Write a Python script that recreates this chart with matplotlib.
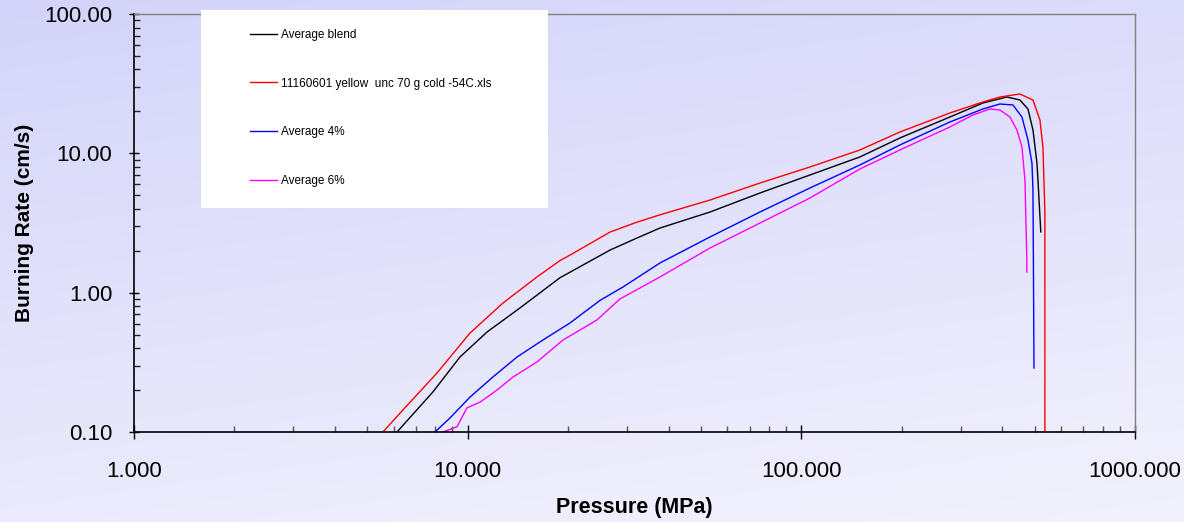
import numpy as np
import matplotlib
matplotlib.use("Agg")
import matplotlib.pyplot as plt
from matplotlib.patches import Rectangle
from matplotlib.ticker import LogLocator, FuncFormatter, NullFormatter

plt.rcParams['font.family'] = ['Liberation Sans', 'DejaVu Sans']

# (pressure MPa, burning rate cm/s)
blend_p = [6.14, 7.87, 9.48, 11.43, 14.34, 18.91, 26.69, 32.2, 37.7, 53.22, 75.14, 106.1, 149.8, 197.4, 278.8, 350.1, 413.2, 452.0, 477.7, 494.5, 508.3, 511.9, 522]
blend_r = [0.1, 0.194, 0.345, 0.522, 0.776, 1.28, 2.02, 2.47, 2.91, 3.79, 5.19, 6.99, 9.42, 12.89, 18.23, 22.98, 25.37, 24.14, 20.81, 14.71, 8.52, 6.44, 2.73]

cold_p = [5.57, 6.40, 8.09, 10.16, 12.76, 16.13, 18.91, 20.26, 26.69, 32.2, 37.7, 53.22, 75.14, 106.1, 149.8, 197.4, 278.8, 350.1, 393.8, 452.0, 494.5, 518.9, 529.7, 533.4, 537, 537]
cold_r = [0.1, 0.144, 0.265, 0.513, 0.843, 1.296, 1.70, 1.86, 2.72, 3.21, 3.62, 4.62, 6.12, 7.98, 10.57, 14.23, 19.48, 23.36, 25.37, 26.67, 24.14, 17.35, 11.10, 6.44, 3.73, 0.1]

avg4_p = [7.98, 8.85, 10.16, 11.9, 14.05, 16.8, 20.26, 24.92, 29.2, 37.7, 53.22, 75.14, 106.1, 149.8, 197.4, 278.8, 350.1, 393.8, 430.7, 458.3, 477.7, 491.1, 494.5, 496, 498]
avg4_r = [0.1, 0.126, 0.178, 0.248, 0.345, 0.457, 0.606, 0.88, 1.098, 1.633, 2.51, 3.79, 5.64, 8.25, 11.48, 16.79, 20.81, 22.60, 22.23, 18.23, 12.49, 8.52, 5.5, 1.716, 0.288]

avg6_p = [8.43, 9.29, 9.95, 10.9, 12.24, 13.67, 16.13, 19.3, 24.4, 28.6, 37.7, 53.22, 75.14, 106.1, 149.8, 197.4, 278.8, 326.8, 367.5, 393.8, 421.9, 442.7, 458.3, 467.9, 470, 474, 474]
avg6_r = [0.1, 0.109, 0.149, 0.164, 0.200, 0.248, 0.318, 0.457, 0.637, 0.901, 1.296, 2.09, 3.16, 4.78, 7.72, 10.57, 15.46, 18.85, 20.81, 20.47, 18.23, 14.71, 11.10, 6.44, 4.12, 1.716, 1.406]

labels = ["Average blend", "11160601 yellow  unc 70 g cold -54C.xls", "Average 4%", "Average 6%"]
colors = ["#000000", "#FF0000", "#0000FF", "#FF00FF"]

W, H = 1184, 522
fig = plt.figure(figsize=(W / 100, H / 100), dpi=100)

# gradient background
bg = fig.add_axes([0, 0, 1, 1], zorder=-10)
yy, xx = np.mgrid[0:1:200j, 0:1:400j]
t = 0.75 * yy + 0.25 * xx
c0 = np.array([212, 212, 250]) / 255
c1 = np.array([242, 242, 253]) / 255
img = c0[None, None, :] * (1 - t[..., None]) + c1[None, None, :] * t[..., None]
bg.imshow(img, aspect='auto', extent=[0, 1, 0, 1], origin='upper')
bg.axis('off')

ax = fig.add_axes([134 / W, 1 - 432 / H, (1135 - 134) / W, (432 - 14) / H])
ax.patch.set_alpha(0)

series = [(blend_p, blend_r), (cold_p, cold_r), (avg4_p, avg4_r), (avg6_p, avg6_r)]
handles = []
for (p, r), lab, col in zip(series, labels, colors):
    h, = ax.plot(p, r, color=col, lw=1.0, label=lab)
    handles.append(h)

ax.set_xscale('log')
ax.set_yscale('log')
ax.set_xlim(1, 1000)
ax.set_ylim(0.1, 100)

ax.xaxis.set_major_locator(LogLocator(base=10, numticks=10))
ax.yaxis.set_major_locator(LogLocator(base=10, numticks=10))
ax.xaxis.set_minor_locator(LogLocator(base=10, subs=np.arange(2, 10), numticks=10))
ax.yaxis.set_minor_locator(LogLocator(base=10, subs=np.arange(2, 10), numticks=10))
ax.xaxis.set_major_formatter(FuncFormatter(lambda v, pos: "%.3f" % v))
ax.yaxis.set_major_formatter(FuncFormatter(lambda v, pos: "%.2f" % v))
ax.xaxis.set_minor_formatter(NullFormatter())
ax.yaxis.set_minor_formatter(NullFormatter())

ax.tick_params(axis='both', which='major', direction='inout', labelsize=16, color='black', width=1)
ax.tick_params(axis='x', which='major', length=10, pad=16)
ax.tick_params(axis='y', which='major', length=7, pad=12)
ax.tick_params(axis='x', which='minor', direction='in', length=4, color='#555555', width=1)
ax.tick_params(axis='y', which='minor', direction='in', length=4.5, color='#222222', width=1)

for s in ['left', 'bottom']:
    ax.spines[s].set_color('black')
    ax.spines[s].set_linewidth(1.2)
for s in ['top', 'right']:
    ax.spines[s].set_color('#808080')
    ax.spines[s].set_linewidth(1.0)

ax.set_xlabel("Pressure (MPa)", fontsize=15.5, fontweight='bold', labelpad=11)
ax.set_ylabel("Burning Rate (cm/s)", fontsize=15, fontweight='bold', labelpad=7.5)

# legend box
fig.patches.append(Rectangle((201 / W, 1 - 208 / H), 347 / W, 198 / H, transform=fig.transFigure,
                             facecolor='white', edgecolor='none', zorder=5))
leg = fig.legend(handles=handles, loc='upper left', bbox_to_anchor=(250 / W, 1 - 29 / H),
                 frameon=False, fontsize=8.5, handlelength=2.3, handletextpad=0.35,
                 labelspacing=3.1, borderaxespad=0, borderpad=0)
leg.set_zorder(6)

fig.savefig("out.png", dpi=100)
